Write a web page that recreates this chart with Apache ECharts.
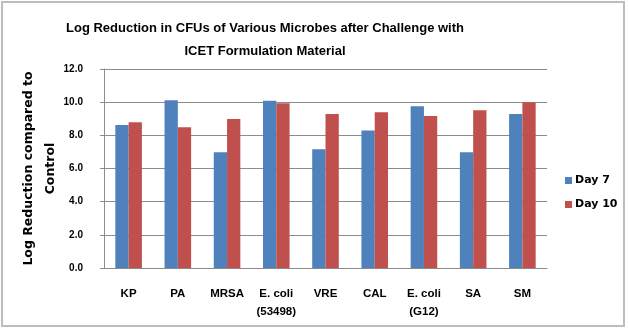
<!DOCTYPE html>
<html>
<head>
<meta charset="utf-8">
<script src="https://cdn.jsdelivr.net/npm/echarts@6/dist/echarts.min.js"></script>
<style>
  html, body { margin: 0; padding: 0; background: #fff; }
  #chart { width: 628px; height: 331px; }
</style>
</head>
<body>
<div id="chart"></div>
<script>
// Microbe strains tested
const categories = ['KP', 'PA', 'MRSA', 'E. coli\n(53498)', 'VRE', 'CAL', 'E. coli\n(G12)', 'SA', 'SM'];
// Log reduction after 7 days
const day7 = [8.63, 10.11, 6.98, 10.08, 7.16, 8.29, 9.75, 6.98, 9.29];
// Log reduction after 10 days
const day10 = [8.79, 8.49, 8.99, 9.93, 9.29, 9.39, 9.17, 9.51, 9.99];
const seriesNames = ['Day 7', 'Day 10'];

const sansBold = "'Liberation Sans', Arial, sans-serif";
const wideBold = "'DejaVu Sans', Verdana, sans-serif";

const chart = echarts.init(document.getElementById('chart'), null, { renderer: 'canvas' });
chart.setOption({
  animation: false,
  backgroundColor: '#ffffff',
  title: {
    text: 'Log Reduction in CFUs of Various Microbes after Challenge with\nICET Formulation Material',
    left: 260,
    top: 12,
    textAlign: 'center',
    textStyle: {
      fontFamily: sansBold,
      fontWeight: 'bold',
      fontSize: 13,
      lineHeight: 23,
      color: '#000'
    }
  },
  graphic: [{
    type: 'rect',
    shape: { x: 2, y: 2, width: 622, height: 324 },
    style: { fill: 'none', stroke: '#bdbdbd', lineWidth: 2 },
    silent: true
  }],
  legend: {
    orient: 'vertical',
    left: 560,
    top: 170,
    itemWidth: 7,
    itemHeight: 7,
    itemGap: 13,
    icon: 'rect',
    textStyle: { fontFamily: wideBold, fontWeight: 'bold', fontSize: 11, color: '#000', padding: [0, 0, 0, -2] },
    data: seriesNames
  },
  grid: { left: 104, right: 81, top: 69, bottom: 63, containLabel: false },
  xAxis: {
    type: 'category',
    data: categories,
    axisLine: { lineStyle: { color: '#8c8c8c', width: 1 } },
    axisTick: { show: false },
    axisLabel: {
      margin: 17,
      interval: 0,
      fontFamily: sansBold,
      fontWeight: 'bold',
      fontSize: 11.5,
      lineHeight: 18,
      color: '#000'
    }
  },
  yAxis: {
    type: 'value',
    min: 0,
    max: 12,
    interval: 2,
    name: 'Log Reduction compared to\nControl',
    nameLocation: 'middle',
    nameGap: 42,
    nameMoveOverlap: false,
    nameTextStyle: {
      fontFamily: wideBold,
      fontWeight: 'bold',
      fontSize: 12.5,
      lineHeight: 22,
      color: '#000'
    },
    axisLine: { show: true, lineStyle: { color: '#8c8c8c', width: 1 } },
    axisTick: { show: true, length: 4, inside: false, lineStyle: { color: '#8c8c8c' } },
    splitLine: { lineStyle: { color: '#8c8c8c', width: 1 } },
    axisLabel: {
      margin: 21,
      formatter: v => v.toFixed(1),
      fontFamily: sansBold,
      fontWeight: 'bold',
      fontSize: 10,
      color: '#000'
    }
  },
  series: [
    {
      name: seriesNames[0],
      type: 'bar',
      data: day7,
      barGap: '0%',
      barCategoryGap: '46%',
      itemStyle: { color: '#4f81bd' }
    },
    {
      name: seriesNames[1],
      type: 'bar',
      data: day10,
      barGap: '0%',
      barCategoryGap: '46%',
      itemStyle: { color: '#c0504d' }
    }
  ]
});
</script>
</body>
</html>
